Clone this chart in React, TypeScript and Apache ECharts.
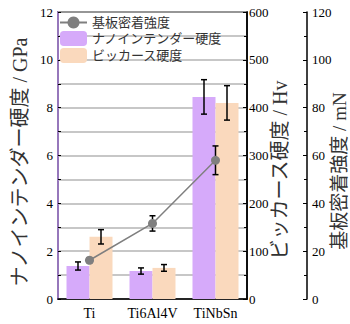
import React, { useEffect, useRef } from "react";
import * as echarts from "echarts";

const categories = ["Ti", "Ti6Al4V", "TiNbSn"];
const nanoHardness = [1.38, 1.17, 8.45];
const nanoErr = [0.17, 0.13, 0.72];
const vickers = [130, 65, 410];
const vickersErr = [15, 7, 36];
const adhesion = [16.2, 31.6, 58];
const adhesionErr = [1, 3.2, 6];

const seriesNames = ["基板密着強度", "ナノインテンダー硬度", "ビッカース硬度"];
const axisNames = ["ナノインテンダー硬度 / GPa", "ビッカース硬度 / Hv", "基板密着強度 / mN"];

const SERIF = "'Liberation Serif', 'Noto Sans CJK JP', serif";
const BAR_W = 23;

function errData(vals: number[], errs: number[]) {
  return vals.map((v, i) => [i, v - errs[i], v + errs[i]]);
}

function errRender(offset: number) {
  return (params: any, api: any) => {
    const i = api.value(0);
    const lo = api.coord([i, api.value(1)]);
    const hi = api.coord([i, api.value(2)]);
    const x = lo[0] + offset;
    const cap = 3;
    const style = { stroke: "#000", lineWidth: 1.5 };
    return {
      type: "group",
      children: [
        { type: "line", shape: { x1: x, y1: lo[1], x2: x, y2: hi[1] }, style },
        { type: "line", shape: { x1: x - cap, y1: lo[1], x2: x + cap, y2: lo[1] }, style },
        { type: "line", shape: { x1: x - cap, y1: hi[1], x2: x + cap, y2: hi[1] }, style },
      ],
    };
  };
}

function titleText(text: string, x: number, y: number, size: number) {
  return {
    type: "text",
    x,
    y,
    rotation: Math.PI / 2,
    silent: true,
    style: {
      text,
      font: `${size}px ${SERIF}`,
      fill: "#333",
      align: "center",
      verticalAlign: "middle",
      textAlign: "center",
      textVerticalAlign: "middle",
    },
  };
}

export default function App() {
  const ref = useRef<HTMLDivElement>(null);
  useEffect(() => {
    document.body.style.margin = "0";
    const chart = echarts.init(ref.current!, null, { renderer: "svg" });
    const tickLabel = { fontFamily: SERIF, fontSize: 13, color: "#000" };
    chart.setOption({
      animation: false,
      backgroundColor: "#fff",
      grid: {
        left: 58,
        right: 103,
        top: 12,
        bottom: 25,
        show: true,
        borderColor: "#000",
        borderWidth: 1.5,
        backgroundColor: "transparent",
        containLabel: false,
        outerBoundsMode: "none",
      },
      graphic: [
        titleText(axisNames[0], 20, 162, 20),
        titleText(axisNames[1], 280, 170, 20),
        titleText(axisNames[2], 339, 171, 19),
      ],
      legend: {
        data: seriesNames,
        orient: "vertical",
        left: 59,
        top: 16,
        padding: 0,
        itemWidth: 27,
        itemHeight: 15,
        itemGap: 2,
        textStyle: { fontFamily: SERIF, fontSize: 13, color: "#333" },
      },
      xAxis: {
        type: "category",
        data: categories,
        axisLine: { lineStyle: { color: "#000", width: 1.5 } },
        axisTick: { show: false },
        axisLabel: { fontFamily: SERIF, fontSize: 14, color: "#000", margin: 7, interval: 0 },
        splitLine: { show: false },
      },
      yAxis: [
        {
          type: "value",
          min: 0,
          max: 12,
          interval: 2,
          position: "left",
          axisLine: { show: true, lineStyle: { color: "#B58BE6", width: 1.5 } },
          axisTick: { show: true, inside: true, length: 3, lineStyle: { color: "#000" } },
          minorTick: { show: true, splitNumber: 2, length: 3, lineStyle: { color: "#000" } },
          axisLabel: { ...tickLabel, margin: 5 },
          splitLine: { show: true, lineStyle: { color: "#b4b4b4", width: 1.5 } },
          minorSplitLine: { show: true, lineStyle: { color: "#b4b4b4", width: 1.5 } },
        },
        {
          type: "value",
          min: 0,
          max: 600,
          interval: 100,
          position: "right",
          axisLine: { show: true, lineStyle: { color: "#000", width: 1.5 } },
          axisTick: { show: true, inside: true, length: 4, lineStyle: { color: "#000" } },
          minorTick: { show: true, splitNumber: 2, length: 3, lineStyle: { color: "#000" } },
          axisLabel: { ...tickLabel, margin: 2 },
          splitLine: { show: false },
        },
        {
          type: "value",
          min: 0,
          max: 120,
          interval: 20,
          position: "right",
          offset: 60,
          axisLine: { show: true, lineStyle: { color: "#000", width: 1.5 } },
          axisTick: { show: true, inside: true, length: 4, lineStyle: { color: "#000" } },
          minorTick: { show: true, splitNumber: 2, length: 3, lineStyle: { color: "#000" } },
          axisLabel: { ...tickLabel, margin: 5 },
          splitLine: { show: false },
        },
      ],
      series: [
        {
          name: seriesNames[0],
          type: "line",
          yAxisIndex: 2,
          data: adhesion,
          symbol: "circle",
          symbolSize: 9,
          itemStyle: { color: "#7f7f7f" },
          lineStyle: { color: "#7f7f7f", width: 1.5 },
          z: 5,
        },
        {
          name: seriesNames[1],
          type: "bar",
          yAxisIndex: 0,
          data: nanoHardness,
          barWidth: BAR_W,
          barGap: "0%",
          itemStyle: { color: "#D6AAFA" },
          z: 2,
        },
        {
          name: seriesNames[2],
          type: "bar",
          yAxisIndex: 1,
          data: vickers,
          barWidth: BAR_W,
          barGap: "0%",
          itemStyle: { color: "#FAD9BD" },
          z: 2,
        },
        {
          type: "custom",
          yAxisIndex: 0,
          data: errData(nanoHardness, nanoErr),
          renderItem: errRender(-BAR_W / 2),
          z: 4,
        },
        {
          type: "custom",
          yAxisIndex: 1,
          data: errData(vickers, vickersErr),
          renderItem: errRender(BAR_W / 2),
          z: 4,
        },
        {
          type: "custom",
          yAxisIndex: 2,
          data: errData(adhesion, adhesionErr),
          renderItem: errRender(0),
          z: 4,
        },
      ],
    });
    return () => chart.dispose();
  }, []);
  return <div ref={ref} style={{ width: 350, height: 324 }} />;
}
